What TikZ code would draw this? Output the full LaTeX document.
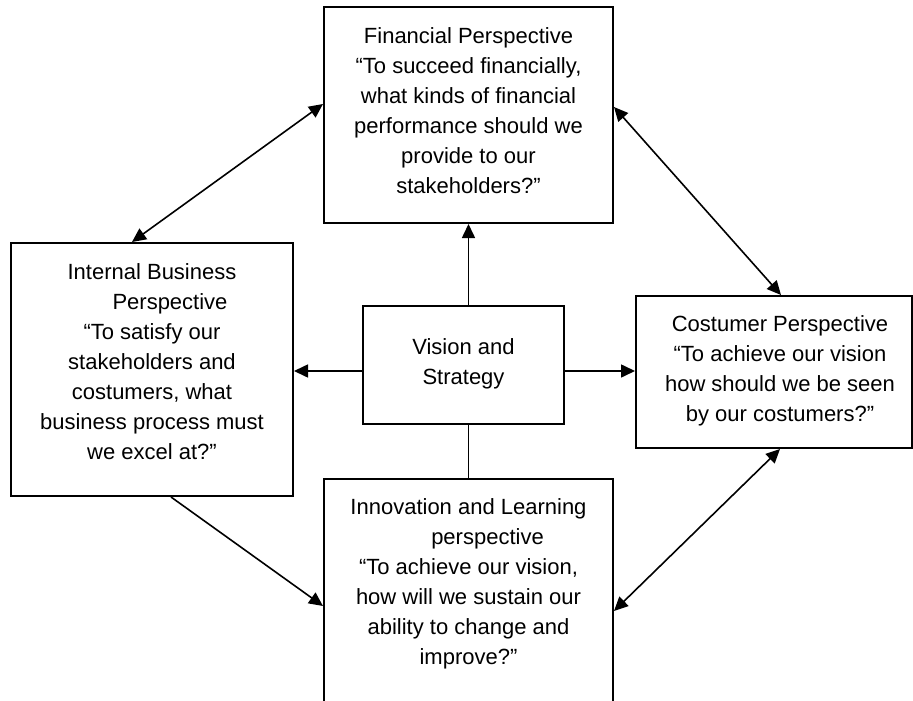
\documentclass[tikz,border=0pt]{standalone}
\usepackage{fontspec}
\setmainfont{Liberation Sans}
\usetikzlibrary{arrows.meta}

\tikzset{
  box/.style={draw=black, line width=2pt, fill=white, inner sep=0pt},
  % multi-line texts are placed by the baseline of their last line
  txt/.style={align=center, anchor=base, inner sep=0pt,
              font=\fontsize{22}{30}\selectfont},
  arr/.style={draw=black, line width=1.6pt, -{Triangle[length=14pt,width=13pt]}},
  biarr/.style={draw=black, line width=1.6pt,
                {Triangle[length=14pt,width=13pt]}-{Triangle[length=14pt,width=13pt]}},
  link/.style={draw=black, line width=1.6pt}
}

\begin{document}
\begin{tikzpicture}[x=1pt, y=-1pt]
  \clip (0,0) rectangle (913,701);
  \fill[white] (0,0) rectangle (913,701);

  % perspective boxes
  \node[box, minimum width=289pt, minimum height=216pt] (fin)   at (468.5,115) {};
  \node[box, minimum width=282pt, minimum height=253pt] (intb)  at (152,369.5) {};
  \node[box, minimum width=201pt, minimum height=118pt] (vis)   at (463.5,365) {};
  \node[box, minimum width=276pt, minimum height=152pt] (cust)  at (774,372) {};
  \node[box, minimum width=289pt, minimum height=262pt] (innov) at (468.5,610) {};

  % box texts
  \node[txt] (fintxt) at (468.5,193) {Financial Perspective\\
    “To succeed financially,\\ what kinds of financial\\
    performance should we\\ provide to our\\ stakeholders?”};
  \node[txt] (intbtxt) at (152,459) {Internal Business\\
    \hspace*{36pt}Perspective\\ “To satisfy our\\ stakeholders and\\
    costumers, what\\ business process must\\ we excel at?”};
  \node[txt] (vistxt) at (463.5,384) {Vision and\\ Strategy};
  \node[txt] (custtxt) at (780,421) {Costumer Perspective\\
    “To achieve our vision\\ how should we be seen\\ by our costumers?”};
  \node[txt] (innovtxt) at (468.5,664) {Innovation and Learning\\
    \hspace*{38pt}perspective\\ “To achieve our vision,\\
    how will we sustain our\\ ability to change and\\ improve?”};

  % connectors from the centre box
  \draw[arr] (vis.north -| fin.south) -- (fin.south);
  \draw[link] (vis.south -| innov.north) -- (innov.north);
  \coordinate (vl) at ([yshift=-6pt]vis.west);
  \coordinate (vr) at ([yshift=-6pt]vis.east);
  \draw[arr] (vl) -- (vl -| intb.east);
  \draw[arr] (vr) -- (vr -| cust.west);

  % connectors around the ring
  \draw[biarr] ([xshift=122pt]intb.north west) -- ([yshift=-98pt]fin.north west);
  \draw[biarr] ([yshift=-101pt]fin.north east) -- ([xshift=146pt]cust.north west);
  \draw[biarr] ([xshift=145pt]cust.south west) -- ([yshift=-133pt]innov.north east);
  \draw[arr] ([xshift=161pt]intb.south west) -- ([yshift=-128pt]innov.north west);
\end{tikzpicture}
\end{document}
